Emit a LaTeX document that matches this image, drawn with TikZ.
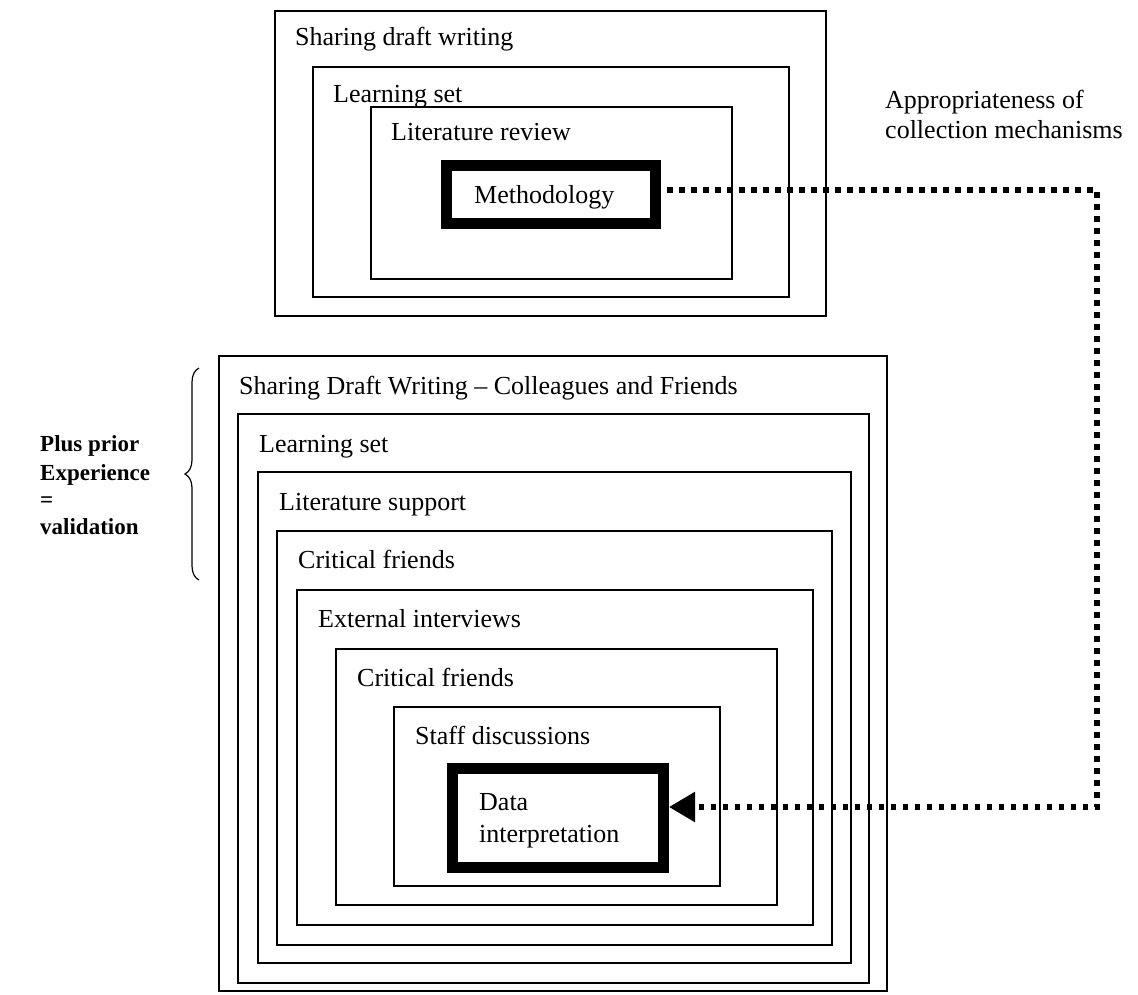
\documentclass[tikz,border=0pt]{standalone}
\usepackage{fontspec}
\setmainfont{Liberation Serif}
\usetikzlibrary{fit,arrows.meta,decorations.pathreplacing}
\begin{document}
\begin{tikzpicture}[x=1pt,y=-1pt,
  frame/.style={draw, line width=1.2pt, inner sep=0pt, rectangle},
  thickframe/.style={draw, line width=11pt, inner sep=0pt, rectangle},
  lbl/.style={anchor=base west, inner sep=0pt, font=\fontsize{26}{30}\selectfont},
  side/.style={anchor=base west, inner sep=0pt, font=\bfseries\fontsize{23}{28}\selectfont},
  dotline/.style={line width=5.5pt, dash pattern=on 5.5pt off 6.5pt},
]
\useasboundingbox (0,0) rectangle (1138,994);

% ---- upper nest: methodology ----
\node[frame, fit={(275,11) (826,316)}] (u1) {};
\node[frame, fit={(313,67) (789,297)}] (u2) {};
\node[frame, fit={(371,107) (732,279)}] (u3) {};
\node[thickframe, fit={(446.5,165.5) (655.5,223.5)}] (meth) {};
\node[lbl] (tu1) at (295,45) {Sharing draft writing};
\node[lbl] (tu2) at (333,102) {Learning set};
\node[lbl] (tu3) at (391,140) {Literature review};
\node[lbl] (tmeth) at (474,203) {Methodology};

% ---- lower nest: data interpretation ----
\node[frame, fit={(219,356) (887,991)}] (l1) {};
\node[frame, fit={(238,414) (869,983)}] (l2) {};
\node[frame, fit={(258,472) (851,963)}] (l3) {};
\node[frame, fit={(277,531) (832,945)}] (l4) {};
\node[frame, fit={(297,590) (813,925)}] (l5) {};
\node[frame, fit={(336,649) (777,905)}] (l6) {};
\node[frame, fit={(394,707) (720,886)}] (l7) {};
\node[thickframe, fit={(452.5,768.5) (663.5,867.5)}] (data) {};
\node[lbl] (tl1) at (239,394) {Sharing Draft Writing -- Colleagues and Friends};
\node[lbl] (tl2) at (259,452) {Learning set};
\node[lbl] (tl3) at (279,510) {Literature support};
\node[lbl] (tl4) at (298,568) {Critical friends};
\node[lbl] (tl5) at (318,627) {External interviews};
\node[lbl] (tl6) at (357,686) {Critical friends};
\node[lbl] (tl7) at (415,744) {Staff discussions};
\node[lbl] (tdata1) at (479,810) {Data};
\node[lbl] (tdata2) at (479,842) {interpretation};

% ---- side note with brace ----
\coordinate (brtop) at (199,368);
\coordinate (brbot) at (199,580);
\draw[line width=1.2pt, decorate, decoration={brace, amplitude=14pt}] (brbot) -- (brtop);
\node[side] (s1) at (40,451) {Plus prior};
\node[side] (s2) at (40,480) {Experience};
\node[side] (s3) at (40,507) {=};
\node[side] (s4) at (40,534) {validation};

% ---- connector label ----
\node[lbl] (ap1) at (885,108) {Appropriateness of};
\node[lbl] (ap2) at (885,138) {collection mechanisms};

% ---- dotted connector ----
\coordinate (c1) at (1097,190);
\coordinate (c2) at (1097,807);
\draw[dotline, -{Triangle[length=26pt,width=29pt]}]
  ([xshift=6pt]meth.east |- c1) -- (c1) -- (c2) -- (data.east |- c2);
\end{tikzpicture}
\end{document}
